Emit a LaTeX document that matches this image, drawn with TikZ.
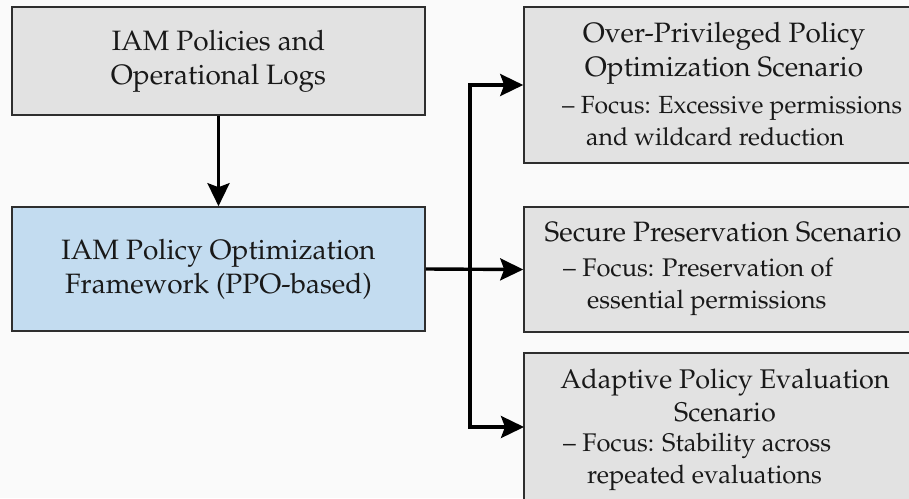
\documentclass[tikz,border=0pt]{standalone}
\usepackage[T1]{fontenc}
\renewcommand{\rmdefault}{ppl}
\usetikzlibrary{arrows.meta}
\definecolor{bgc}{HTML}{FAFAFA}
\definecolor{grayfill}{HTML}{E2E2E2}
\definecolor{bluefill}{HTML}{C3DCF0}
\definecolor{edgec}{HTML}{2E2E2E}
\begin{document}
\begin{tikzpicture}[x=1pt,y=-1pt,
  font=\fontsize{28}{34}\selectfont,
  boxbase/.style={draw=edgec, line width=1.6pt, inner sep=0pt, align=center, text=black!90},
  graybox/.style={boxbase, fill=grayfill},
  bluebox/.style={boxbase, fill=bluefill},
  txt/.style={inner sep=0pt, text=black!90},
  focustxt/.style={txt, align=left, anchor=west, font=\fontsize{25.5}{31.5}\selectfont},
  conn/.style={line width=3.4pt, -{Stealth[length=23pt,width=22pt,inset=4pt]}},
]
\clip (0,0) rectangle (909,498);
\fill[bgc] (0,0) rectangle (909,498);

% left column
\node[graybox, minimum width=413pt, minimum height=108pt] (b1) at (218.5,61) {IAM Policies and\\Operational Logs};
\node[bluebox, minimum width=413pt, minimum height=124pt] (b2) at (218.5,269) {IAM Policy Optimization\\Framework (PPO-based)};

% right column boxes
\node[graybox, minimum width=400pt, minimum height=156pt] (bA) at (724,85) {};
\node[graybox, minimum width=400pt, minimum height=125pt] (bB) at (724,269.5) {};
\node[graybox, minimum width=400pt, minimum height=167pt] (bC) at (724,436.5) {};

% texts of right boxes
\node[txt, align=center] (tA) at (724,53.5) {Over-Privileged Policy\\Optimization Scenario};
\node[focustxt, font=\fontsize{24.8}{32}\selectfont] (fA) at (562,121.5) {-- Focus: Excessive permissions\\\hspace*{24pt}and wildcard reduction};
\node[txt, align=center] (tB) at (723,232) {Secure Preservation Scenario};
\node[focustxt] (fB) at (563,287) {-- Focus: Preservation of\\\hspace*{24pt}essential permissions};
\node[txt, align=center, font=\fontsize{27}{33}\selectfont] (tC) at (725,396) {Adaptive Policy Evaluation\\Scenario};
\node[focustxt] (fC) at (563,462) {-- Focus: Stability across\\\hspace*{24pt}repeated evaluations};

% connectors
\coordinate (j) at (470,269);
\coordinate (cin) at (524,427);
\draw[conn] (b1.south) -- (b2.north);
\draw[conn] (b2.east) -- (bB.west);
\draw[conn] (j) |- (bA.west);
\draw[conn] (j) |- (cin);
\end{tikzpicture}
\end{document}
